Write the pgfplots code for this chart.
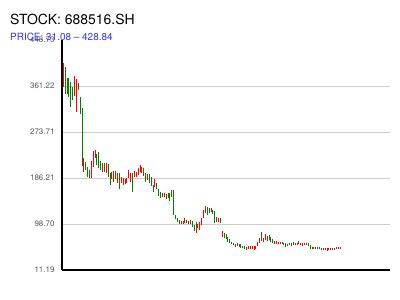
\documentclass[border=0pt]{standalone}
\usepackage{pgfplots}
\pgfplotsset{compat=1.18}
\usepackage{pgfplotstable}
\usepackage{fontspec}
\setmainfont{TeX Gyre Heros}
\definecolor{upred}{RGB}{255,0,0}
\definecolor{dngreen}{RGB}{0,128,0}
\definecolor{subblue}{RGB}{51,51,255}
\definecolor{ticktext}{RGB}{85,85,85}
\pgfplotstableread{
i lo hi
1 359.3 405.0
7 342.2 380.3
8 311.8 374.5
12 197.6 224.3
16 186.2 218.6
17 207.1 237.6
18 224.3 239.5
22 197.6 214.7
24 195.7 214.7
27 184.3 197.6
28 178.6 199.5
30 176.7 195.7
32 176.7 188.1
33 172.9 186.2
34 174.8 184.3
35 176.7 186.2
36 186.2 201.4
37 178.6 195.7
39 188.1 199.5
40 188.1 197.6
41 191.9 205.2
42 197.6 210.9
43 195.7 207.1
46 182.4 193.8
50 169.1 184.3
54 150.1 157.7
55 150.1 157.7
59 150.1 163.4
64 98.7 104.4
65 98.7 104.4
66 100.6 110.1
68 98.7 104.4
72 81.6 102.5
74 87.3 102.5
75 96.8 110.1
76 110.1 125.3
77 119.6 132.9
80 121.5 129.1
83 102.5 112.0
84 102.5 110.1
86 74.0 85.4
93 54.9 60.7
95 54.9 60.7
99 49.2 54.9
100 51.1 56.9
101 51.1 56.9
102 51.1 56.9
103 49.2 56.9
104 51.1 56.9
105 56.9 64.5
106 62.6 72.1
108 64.5 72.1
109 68.3 79.7
110 66.4 75.9
114 60.7 66.4
115 60.7 66.4
116 60.7 64.5
118 60.7 64.5
121 56.9 60.7
123 56.9 62.6
125 58.8 62.6
126 58.8 62.6
127 60.7 66.4
128 58.8 62.6
129 56.9 62.6
130 58.8 62.6
131 58.8 62.6
134 51.1 54.9
136 51.1 54.9
140 49.2 53.0
141 49.2 53.0
142 47.3 53.0
143 49.2 53.0
144 51.1 53.0
145 49.2 53.0
147 51.1 54.9
148 51.1 54.9
149 51.1 54.9
}\upT
\pgfplotstableread{
i lo hi
2 346.0 397.4
3 346.0 376.4
4 340.3 376.4
5 321.3 368.8
6 334.6 359.3
9 353.6 366.9
10 308.0 340.3
11 209.0 319.4
13 201.4 216.6
14 188.1 207.1
15 186.2 201.4
19 210.9 231.9
20 205.2 235.7
21 201.4 218.6
23 197.6 214.7
25 188.1 212.8
26 172.9 195.7
29 184.3 199.5
31 165.3 195.7
38 159.6 195.7
44 190.0 205.2
45 178.6 195.7
47 176.7 193.8
48 171.0 188.1
49 159.6 172.9
51 165.3 176.7
52 152.0 165.3
53 148.2 159.6
56 146.3 155.8
57 148.2 157.7
58 142.5 157.7
60 115.8 163.4
61 108.2 115.8
62 102.5 110.1
63 98.7 106.3
67 100.6 106.3
69 98.7 106.3
70 93.0 104.4
71 85.4 96.8
73 91.1 98.7
78 115.8 131.0
79 119.6 129.1
81 117.7 125.3
82 100.6 123.4
85 100.6 110.1
87 72.1 81.6
88 70.2 79.7
89 64.5 74.0
90 62.6 70.2
91 60.7 64.5
92 58.8 62.6
94 56.9 62.6
96 53.0 60.7
97 53.0 56.9
98 51.1 56.9
107 66.4 83.5
111 68.3 77.8
112 64.5 74.0
113 62.6 70.2
117 60.7 64.5
119 58.8 62.6
120 54.9 62.6
122 58.8 62.6
124 58.8 64.5
132 56.9 62.6
133 51.1 58.8
135 51.1 54.9
137 51.1 54.9
138 51.1 54.9
139 49.2 53.0
146 49.2 53.0
}\dnT
\begin{document}
\begin{tikzpicture}
\begin{axis}[
  at={(62bp,30bp)}, anchor=south west,
  scale only axis, width=328bp, height=230bp,
  xmin=0.3, xmax=175.7, ymin=11.19, ymax=448.73,
  axis x line=bottom, axis y line=left,
  axis line style={-, black, line width=2.2bp},
  xtick=\empty,
  ytick={98.70,186.21,273.71,361.22},
  extra y ticks={11.19,448.73},
  extra y tick style={grid=none},
  ymajorgrids,
  grid style={draw=black!20, line width=0.8bp},
  major tick length=0pt,
  /pgf/number format/assume math mode=true,
  /pgf/number format/fixed, /pgf/number format/fixed zerofill,
  /pgf/number format/precision=2,
  yticklabel style={font=\fontsize{8}{9}\selectfont, text=ticktext, xshift=-4bp},
  clip=false,
]
\addplot[draw=none, mark=none, forget plot,
  error bars/.cd, y dir=both, y explicit, error mark=none,
  error bar style={draw=upred, line width=0.95bp}]
  table[x=i, y expr={(\thisrow{lo}+\thisrow{hi})/2}, y error expr={(\thisrow{hi}-\thisrow{lo})/2}] {\upT};
\addplot[draw=none, mark=none, forget plot,
  error bars/.cd, y dir=both, y explicit, error mark=none,
  error bar style={draw=dngreen, line width=0.95bp}]
  table[x=i, y expr={(\thisrow{lo}+\thisrow{hi})/2}, y error expr={(\thisrow{hi}-\thisrow{lo})/2}] {\dnT};
\end{axis}
\node[anchor=base west, inner sep=0, font=\fontsize{14}{16}\selectfont] at (10bp,275bp) {STOCK: 688516.SH};
\node[anchor=base west, inner sep=0, font=\fontsize{10}{12}\selectfont, text=subblue] at (10bp,259.5bp) {PRICE: 31.08 – 428.84};
\pgfresetboundingbox
\path[use as bounding box] (0,0) rectangle (400bp,300bp);
\end{tikzpicture}
\end{document}
